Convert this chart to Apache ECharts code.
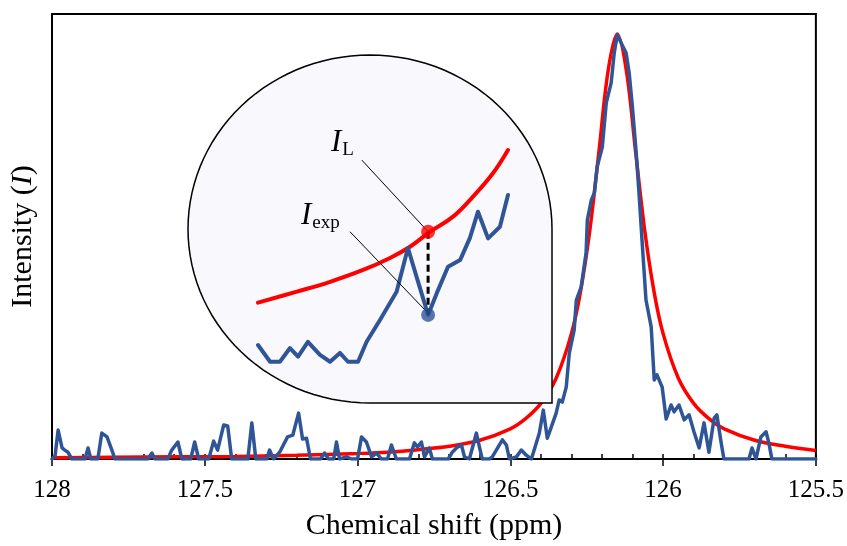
<!DOCTYPE html>
<html><head><meta charset="utf-8">
<script src="https://cdn.jsdelivr.net/npm/echarts@6/dist/echarts.min.js"></script>
<style>html,body{margin:0;padding:0;background:#fff}#c{width:847px;height:546px}</style>
</head><body><div id="c"></div>
<script>
// ---- main plot data (chemical shift in ppm, intensity normalised to peak) ----
const fitShift = [128, 127.8, 127.6, 127.4, 127.2, 127.0, 126.9, 126.8, 126.7, 126.6, 126.5, 126.45, 126.4, 126.35, 126.3, 126.27, 126.24, 126.21, 126.18, 126.15, 126.12, 126.09, 126.06, 126.03, 126.0, 125.95, 125.9, 125.85, 125.8, 125.7, 125.6, 125.5];
const fitIntensity = [0.003, 0.004, 0.005, 0.006, 0.009, 0.013, 0.016, 0.022, 0.030, 0.044, 0.071, 0.095, 0.131, 0.190, 0.295, 0.395, 0.537, 0.723, 0.913, 1.0, 0.913, 0.723, 0.537, 0.395, 0.295, 0.190, 0.131, 0.095, 0.071, 0.044, 0.030, 0.020];

// experimental spectrum as [shift, intensity] pairs
const expSpectrum = [
  [128.000,0],[127.990,0.007],[127.980,0.068],[127.967,0.026],[127.958,0.021],[127.948,0.016],[127.935,0],[127.892,0],[127.882,0.026],[127.873,0],
  [127.850,0],[127.837,0.061],[127.820,0.052],[127.804,0.021],[127.794,0],[127.686,0],[127.673,0.014],[127.663,0],[127.621,0],[127.608,0.021],
  [127.588,0.040],[127.575,0],[127.546,0],[127.533,0.040],[127.520,0],[127.487,0],[127.471,0.042],[127.458,0.021],[127.438,0.080],[127.425,0.078],
  [127.412,0],[127.359,0],[127.346,0.085],[127.333,0],[127.297,0],[127.288,0.021],[127.275,0],[127.255,0.016],[127.229,0.052],[127.212,0.056],
  [127.193,0.108],[127.180,0.047],[127.167,0.049],[127.154,0],[127.121,0],[127.108,0.014],[127.095,0],[127.078,0],[127.069,0.040],[127.059,0],
  [127.036,0.005],[127.020,0],[127.000,0],[126.987,0.052],[126.971,0.040],[126.954,0.005],[126.938,0.014],[126.922,0],[126.902,0],[126.889,0.033],
  [126.873,0],[126.830,0],[126.814,0.038],[126.804,0.028],[126.791,0.040],[126.781,0.005],[126.765,0.026],[126.755,0],[126.703,0],[126.690,0.016],
  [126.673,0.028],[126.660,0.033],[126.650,0.005],[126.634,0],[126.611,0.061],[126.601,0.028],[126.592,0],[126.569,0],[126.559,0.005],[126.526,0.045],
  [126.513,0.033],[126.503,0],[126.480,0.005],[126.464,0.021],[126.448,0.009],[126.431,0],[126.405,0.061],[126.392,0.115],[126.379,0.049],[126.366,0.075],
  [126.350,0.108],[126.340,0.139],[126.330,0.134],[126.317,0.169],[126.307,0.249],[126.291,0.304],[126.284,0.374],[126.268,0.405],[126.252,0.485],[126.248,0.562],
  [126.235,0.609],[126.225,0.626],[126.216,0.687],[126.199,0.734],[126.186,0.838],[126.170,0.885],[126.160,0.955],[126.150,0.998],[126.134,0.974],[126.121,0.955],
  [126.111,0.908],[126.101,0.833],[126.088,0.720],[126.078,0.616],[126.069,0.515],[126.056,0.374],[126.039,0.311],[126.029,0.186],[126.020,0.198],[126.003,0.169],
  [125.990,0.094],[125.974,0.127],[125.964,0.111],[125.948,0.127],[125.931,0.092],[125.915,0.104],[125.899,0.064],[125.882,0.026],[125.866,0.085],[125.850,0.016],
  [125.833,0.096],[125.824,0.104],[125.810,0.038],[125.801,0],[125.719,0],[125.709,0.026],[125.696,0],[125.680,0.052],[125.663,0.064],[125.654,0.038],
  [125.644,0],[125.500,0]
];

const xTickLabels = ['128', '127.5', '127', '126.5', '126', '125.5'];

// ---- inset (magnified view, inset units 0..100) ----
const insetFitX = [0, 15.4, 28.6, 41.7, 52.4, 60.3, 68.3, 77.4, 85.3, 93.3, 99.2];
const insetFitY = [29.0, 34.1, 38.7, 44.2, 49.8, 55.0, 62.0, 69.0, 78.3, 89.3, 100];
const insetExpX = [0, 4.8, 8.7, 12.7, 15.9, 19.8, 24.6, 28.6, 32.5, 35.7, 39.7, 43.1, 48.4, 55.0, 59.5, 62.9, 67.5, 70.9, 75.4, 80.2, 84.1, 87.3, 91.3, 96.0, 99.2];
const insetExpY = [9.3, 1.5, 1.5, 7.9, 3.9, 10.8, 4.7, 1.5, 5.6, 1.5, 1.5, 10.8, 20.9, 34.1, 54.4, 41.1, 23.3, 33.3, 45.7, 48.8, 59.1, 71.3, 58.9, 64.3, 79.1];
const markX = 67.5;
const markFitY = 62.0;
const markExpY = 23.3;
const leaderLX = [41.2, 67.5], leaderLY = [95.3, 62.0];
const leaderEX = [36.5, 66.9], leaderEY = [62.0, 24.8];

const zip = (a, b) => a.map((v, i) => [v, b[i]]);
const SERIF = '"Liberation Serif", "Times New Roman", serif';
const RED = '#ff0000', BLUE = '#2f5597';

// inset outline (decoration): ellipse-topped box with square bottom-right corner
const cx = 370, cy = 229, rx = 182, ry = 174, bottomY = 403;
const pts = [];
for (let t = 180; t <= 360; t += 3) { const a = t * Math.PI / 180; pts.push([cx + rx * Math.cos(a), cy + ry * Math.sin(a)]); }
pts.push([cx + rx, bottomY]);
for (let t = 90; t <= 180; t += 3) { const a = t * Math.PI / 180; pts.push([cx + rx * Math.cos(a), cy + ry * Math.sin(a)]); }

const chart = echarts.init(document.getElementById('c'), null, { renderer: 'canvas' });
chart.setOption({
  animation: false,
  backgroundColor: '#fff',
  grid: [
    { left: 52, right: 30, top: 14, bottom: 87, show: true, borderColor: '#000', borderWidth: 2, backgroundColor: 'transparent' },
    { left: 258, top: 150, width: 252, height: 215, show: false }
  ],
  xAxis: [
    { type: 'value', gridIndex: 0, min: 125.5, max: 128, interval: 0.5, inverse: true, position: 'bottom',
      axisLine: { show: true, lineStyle: { color: '#000', width: 2 } },
      axisTick: { show: true, inside: true, length: 5, lineStyle: { color: '#000', width: 1.5 } },
      minorTick: { show: true, splitNumber: 5, length: 5, lineStyle: { color: '#000', width: 1.5 } },
      splitLine: { show: false },
      axisLabel: { margin: 19, color: '#000', fontSize: 25, fontFamily: SERIF,
        formatter: v => xTickLabels.find(t => Math.abs(parseFloat(t) - v) < 1e-6) || '' },
      name: 'Chemical shift (ppm)', nameLocation: 'middle', nameGap: 52,
      nameTextStyle: { color: '#000', fontSize: 30, fontFamily: SERIF } },
    { type: 'value', gridIndex: 0, min: 125.5, max: 128, interval: 0.5, inverse: true, position: 'bottom',
      axisLine: { show: false }, axisLabel: { show: false }, splitLine: { show: false },
      axisTick: { show: true, inside: false, length: 7, lineStyle: { color: '#000', width: 1.5 } } },
    { type: 'value', gridIndex: 1, min: 0, max: 100, show: false }
  ],
  yAxis: [
    { type: 'value', gridIndex: 0, min: 0, max: 1.047,
      axisLine: { show: true, lineStyle: { color: '#000', width: 2 } },
      axisTick: { show: false }, axisLabel: { show: false }, splitLine: { show: false },
      name: '{a|Intensity (}{b|I}{a|)}', nameLocation: 'middle', nameGap: 14, nameRotate: 90,
      nameTextStyle: { color: '#000', rich: {
        a: { fontSize: 30, fontFamily: SERIF, color: '#000' },
        b: { fontSize: 30, fontFamily: SERIF, fontStyle: 'italic', color: '#000' } } } },
    { type: 'value', gridIndex: 1, min: 0, max: 100, show: false }
  ],
  graphic: [
    { type: 'polygon', z: 5, shape: { points: pts }, style: { fill: '#f8f8fd', stroke: '#000', lineWidth: 1.5 } },
    { type: 'text', z: 20, style: { x: 331, y: 143, verticalAlign: 'middle', text: '{i|I}{s|L}',
      rich: { i: { fontSize: 31, fontFamily: SERIF, fontStyle: 'italic', fill: '#000' },
              s: { fontSize: 19, fontFamily: SERIF, fill: '#000', padding: [14, 0, 0, 1] } } } },
    { type: 'text', z: 20, style: { x: 301, y: 216, verticalAlign: 'middle', text: '{i|I}{s|exp}',
      rich: { i: { fontSize: 31, fontFamily: SERIF, fontStyle: 'italic', fill: '#000' },
              s: { fontSize: 19, fontFamily: SERIF, fill: '#000', padding: [14, 0, 0, 1] } } } }
  ],
  series: [
    { type: 'line', name: 'fit', xAxisIndex: 0, yAxisIndex: 0, data: zip(fitShift, fitIntensity), smooth: 0.35,
      showSymbol: false, z: 2, lineStyle: { color: RED, width: 3.5 } },
    { type: 'line', name: 'exp', xAxisIndex: 0, yAxisIndex: 0, data: expSpectrum,
      showSymbol: false, z: 3, lineStyle: { color: BLUE, width: 3.5, join: 'round', cap: 'round' } },
    { type: 'line', xAxisIndex: 2, yAxisIndex: 1, data: zip(insetFitX, insetFitY), smooth: 0.4, showSymbol: false,
      z: 10, clip: false, lineStyle: { color: RED, width: 4, cap: 'round' } },
    { type: 'line', xAxisIndex: 2, yAxisIndex: 1, data: zip(insetExpX, insetExpY), showSymbol: false,
      z: 10, clip: false, lineStyle: { color: BLUE, width: 4, cap: 'round', join: 'round' } },
    { type: 'line', xAxisIndex: 2, yAxisIndex: 1, data: [[markX, markFitY], [markX, markExpY]], showSymbol: false,
      z: 11, clip: false, lineStyle: { color: '#000', width: 3, type: [7, 4] } },
    { type: 'line', xAxisIndex: 2, yAxisIndex: 1, data: zip(leaderLX, leaderLY), showSymbol: false,
      z: 12, clip: false, lineStyle: { color: '#000', width: 1 } },
    { type: 'line', xAxisIndex: 2, yAxisIndex: 1, data: zip(leaderEX, leaderEY), showSymbol: false,
      z: 12, clip: false, lineStyle: { color: '#000', width: 1 } },
    { type: 'scatter', xAxisIndex: 2, yAxisIndex: 1, symbolSize: 14, z: 13, clip: false,
      data: [ { value: [markX, markFitY], itemStyle: { color: RED } },
              { value: [markX, markExpY], itemStyle: { color: BLUE } } ] }
  ]
});
</script>
</body></html>
